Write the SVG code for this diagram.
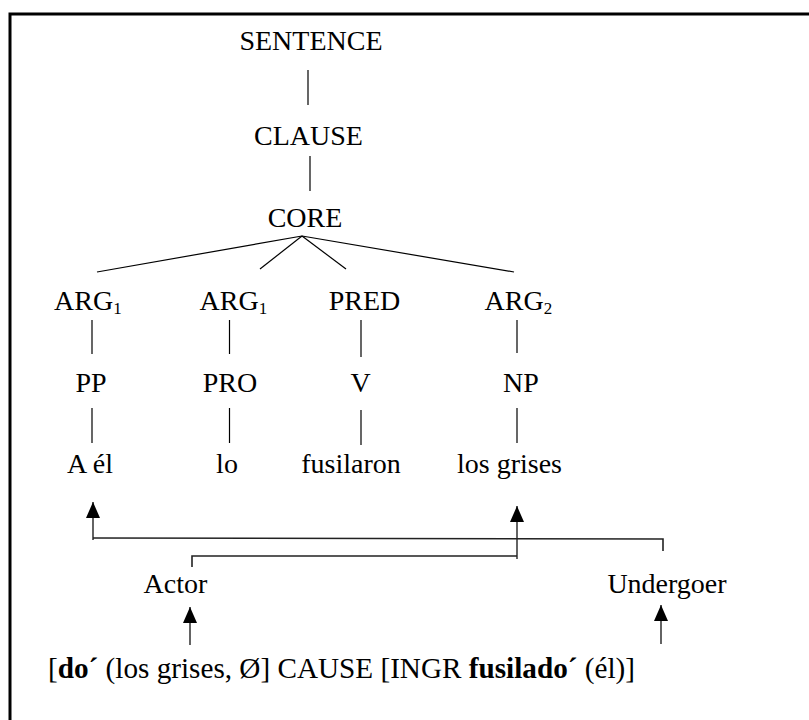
<svg xmlns="http://www.w3.org/2000/svg" width="809" height="720" viewBox="0 0 809 720">
<defs>
<style>
text{font-family:"Liberation Serif","Times New Roman",serif;font-size:28px;fill:#000}
.sub{font-size:17px}
.b{font-weight:bold}
.f{font-size:29.2px}
.ln{stroke:#000;stroke-width:1.2;fill:none}
.br{stroke:#222;stroke-width:1.6;fill:none}
.ar{stroke:#222;stroke-width:1.4;fill:none}
.frame{stroke:#000;stroke-width:3;fill:none}
</style>
<marker id="ah" viewBox="0 0 16 14" refX="16" refY="7" markerWidth="16" markerHeight="14" markerUnits="userSpaceOnUse" orient="auto">
<path d="M16 7 L0 0 L0 14 Z" fill="#000"/>
</marker>
</defs>
<rect width="809" height="720" fill="#fff"/>
<path class="frame" d="M10 720 L10 14 L809 14"/>
<g id="connectors">
<line class="ln" x1="308" y1="70" x2="308" y2="105"/>
<line class="ln" x1="310" y1="156" x2="310" y2="191"/>
<line class="ln" x1="302" y1="236" x2="97" y2="272"/>
<line class="ln" x1="302" y1="236" x2="260" y2="269"/>
<line class="ln" x1="302" y1="236" x2="346" y2="269"/>
<line class="ln" x1="302" y1="236" x2="514" y2="272"/>
<line class="ln" x1="92" y1="320" x2="92" y2="354"/>
<line class="ln" x1="229.5" y1="320" x2="229.5" y2="354"/>
<line class="ln" x1="361" y1="320" x2="361" y2="357"/>
<line class="ln" x1="517" y1="320" x2="517" y2="353"/>
<line class="ln" x1="92" y1="408" x2="92" y2="443"/>
<line class="ln" x1="229.5" y1="408" x2="229.5" y2="443"/>
<line class="ln" x1="361" y1="410" x2="361" y2="445"/>
<line class="ln" x1="517" y1="408" x2="517" y2="443"/>
<line class="ar" x1="93" y1="540" x2="93" y2="502" marker-end="url(#ah)"/>
<polyline class="br" points="93,538 663,539 663,551"/>
<line class="ar" x1="517" y1="559" x2="517" y2="506" marker-end="url(#ah)"/>
<polyline class="br" points="192,567 192,556 517,556"/>
<line class="ar" x1="190" y1="645" x2="190" y2="607" marker-end="url(#ah)"/>
<line class="ar" x1="661" y1="644" x2="661" y2="605" marker-end="url(#ah)"/>
</g>
<g id="n-sentence"><text x="311" y="50" text-anchor="middle">SENTENCE</text></g>
<g id="n-clause"><text x="308.5" y="145" text-anchor="middle">CLAUSE</text></g>
<g id="n-core"><text x="305" y="227" text-anchor="middle">CORE</text></g>
<g id="n-arg1a"><text x="54" y="310">ARG<tspan class="sub" dy="4">1</tspan></text></g>
<g id="n-arg1b"><text x="199.5" y="310">ARG<tspan class="sub" dy="4">1</tspan></text></g>
<g id="n-pred"><text x="364.5" y="310" text-anchor="middle">PRED</text></g>
<g id="n-arg2"><text x="484.5" y="310">ARG<tspan class="sub" dy="4">2</tspan></text></g>
<g id="n-pp"><text x="91" y="392" text-anchor="middle">PP</text></g>
<g id="n-pro"><text x="230" y="392" text-anchor="middle">PRO</text></g>
<g id="n-v"><text x="360.5" y="392" text-anchor="middle">V</text></g>
<g id="n-np"><text x="521" y="392" text-anchor="middle">NP</text></g>
<g id="n-ael"><text x="90" y="473" text-anchor="middle">A él</text></g>
<g id="n-lo"><text x="227" y="473" text-anchor="middle">lo</text></g>
<g id="n-fusilaron"><text x="351" y="473" text-anchor="middle">fusilaron</text></g>
<g id="n-losgrises"><text x="509.5" y="473" text-anchor="middle">los grises</text></g>
<g id="n-actor"><text x="175.5" y="593" text-anchor="middle">Actor</text></g>
<g id="n-undergoer"><text x="667" y="593" text-anchor="middle">Undergoer</text></g>
<g id="n-formula"><text class="f" x="48" y="678">[<tspan class="b">do´</tspan> (los grises, Ø] CAUSE [INGR <tspan class="b">fusilado´</tspan> (él)]</text></g>
</svg>
